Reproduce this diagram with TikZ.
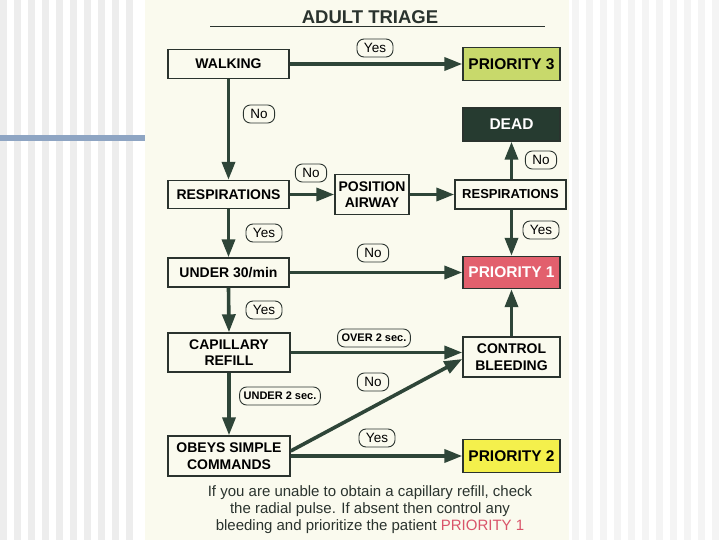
\documentclass[tikz,border=0pt]{standalone}
\usepackage{fontspec}
\setmainfont{Liberation Sans}
\usetikzlibrary{arrows.meta,calc}

\definecolor{paper}{HTML}{FAFAEE}
\definecolor{arrgreen}{HTML}{2E4538}
\definecolor{boxline}{HTML}{2A332E}
\definecolor{pthree}{HTML}{C8D96B}
\definecolor{deadfill}{HTML}{263B30}
\definecolor{pone}{HTML}{E2606D}
\definecolor{ptwo}{HTML}{F4F04C}
\definecolor{redtext}{HTML}{D9546A}
\definecolor{slideline}{HTML}{8EA5C3}

\begin{document}
\begin{tikzpicture}[x=1pt, y=-1pt,
    box/.style={draw=boxline, line width=1.4pt, fill=paper, align=center,
      font=\fontsize{14}{16.5}\selectfont\bfseries, inner sep=0pt},
    bigbox/.style={box, minimum width=97pt, minimum height=33pt,
      font=\fontsize{15.5}{18}\selectfont\bfseries},
    lab/.style={draw=boxline, line width=0.9pt, rounded corners=7pt, fill=paper,
      font=\fontsize{13.5}{15}\selectfont, inner sep=1pt, inner xsep=7pt, minimum height=18pt},
    smalllab/.style={lab, inner xsep=4pt, font=\fontsize{11}{12}\selectfont\bfseries},
    arr/.style={-{Triangle[length=18pt,width=13pt]}, line width=3.6pt, draw=arrgreen}
]
\useasboundingbox (0,0) rectangle (720,540);
% slide background
\fill[white] (0,0) rectangle (720,540);
\foreach \x in {0,14,...,130} {
  \fill[gray!14] (\x,0) rectangle ++(7,540);
}
\foreach \x in {572,586,...,712} {
  \fill[gray!9] (\x,0) rectangle ++(7,540);
}
\fill[slideline] (0,135) rectangle (145,141);
\fill[paper] (145,0) rectangle (569,540);

% title
\node[font=\fontsize{18.5}{20}\selectfont\bfseries, text=boxline, anchor=base] (title) at (370,24) {ADULT TRIAGE};
\draw[boxline, line width=1.8pt] (210,26.5) -- (545,26.5);

% boxes
\node[box, minimum width=121pt, minimum height=29pt] (walk) at (228.5,64) {WALKING};
\node[bigbox, fill=pthree] (p3) at (511.5,64) {PRIORITY 3};
\node[bigbox, fill=deadfill, text=white] (dead) at (511.5,124.5) {DEAD};
\node[box, minimum width=121pt, minimum height=28pt] (resp) at (228.5,194.5) {RESPIRATIONS};
\node[box, minimum width=74pt, minimum height=40pt] (airway) at (372,194.5) {POSITION\\AIRWAY};
\node[box, minimum width=111pt, minimum height=29pt, font=\fontsize{13}{15}\selectfont\bfseries] (resp2) at (510.5,194.5) {RESPIRATIONS};
\node[box, minimum width=121pt, minimum height=29pt] (under) at (228.5,272.5) {UNDER 30/min};
\node[bigbox, fill=pone, text=white, minimum height=32pt] (p1) at (511.5,272.5) {PRIORITY 1};
\node[box, minimum width=122pt, minimum height=39pt] (cap) at (229,352.5) {CAPILLARY\\REFILL};
\node[box, minimum width=97pt, minimum height=40pt] (bleed) at (511.5,357) {CONTROL\\BLEEDING};
\node[box, minimum width=122pt, minimum height=40pt] (obeys) at (229,456) {OBEYS SIMPLE\\COMMANDS};
\node[bigbox, fill=ptwo] (p2) at (511.5,456) {PRIORITY 2};

% connectors
\draw[arr] (walk.east) -- (p3.west);
\draw[arr] (walk.south) -- (resp.north);
\draw[arr] (resp.east) -- (airway.west);
\draw[arr] (airway.east) -- (resp2.west);
\draw[arr] (resp2.north -| dead) -- (dead.south);
\draw[arr] (resp2.south -| p1) -- (p1.north);
\draw[arr] (resp.south) -- (under.north);
\draw[arr] (under.east) -- (p1.west);
\draw[arr] (under.south) -- (cap.north);
\draw[arr] (cap.east) -- (cap.east -| bleed.west);
\draw[arr] (cap.south) -- (obeys.north);
\draw[arr] ([yshift=5pt]obeys.east) -- ([yshift=-2pt]bleed.west);
\draw[arr] (obeys.east) -- (p2.west);
\draw[arr] (bleed.north) -- (p1.south);

% labels
\node[lab] (yes1) at (375,48) {Yes};
\node[lab] (no1) at (259,114) {No};
\node[lab] (no2) at (311,173) {No};
\node[lab] (no3) at (541,160) {No};
\node[lab] (yes2) at (541,230) {Yes};
\node[lab] (yes3) at (264,233) {Yes};
\node[lab] (no4) at (373,253) {No};
\node[lab] (yes4) at (264,310) {Yes};
\node[smalllab] (over) at (374,338) {OVER 2 sec.};
\node[smalllab] (under2) at (280,396) {UNDER 2 sec.};
\node[lab] (no5) at (373,382) {No};
\node[lab] (yes5) at (377,438) {Yes};

% footer note
\node[align=center, text=boxline, font=\fontsize{15}{17}\selectfont] (note) at (370,510)
  {If you are unable to obtain a capillary refill, check\\
   the radial pulse. If absent then control any\\
   bleeding and prioritize the patient \textcolor{redtext}{PRIORITY 1}};
\end{tikzpicture}
\end{document}
